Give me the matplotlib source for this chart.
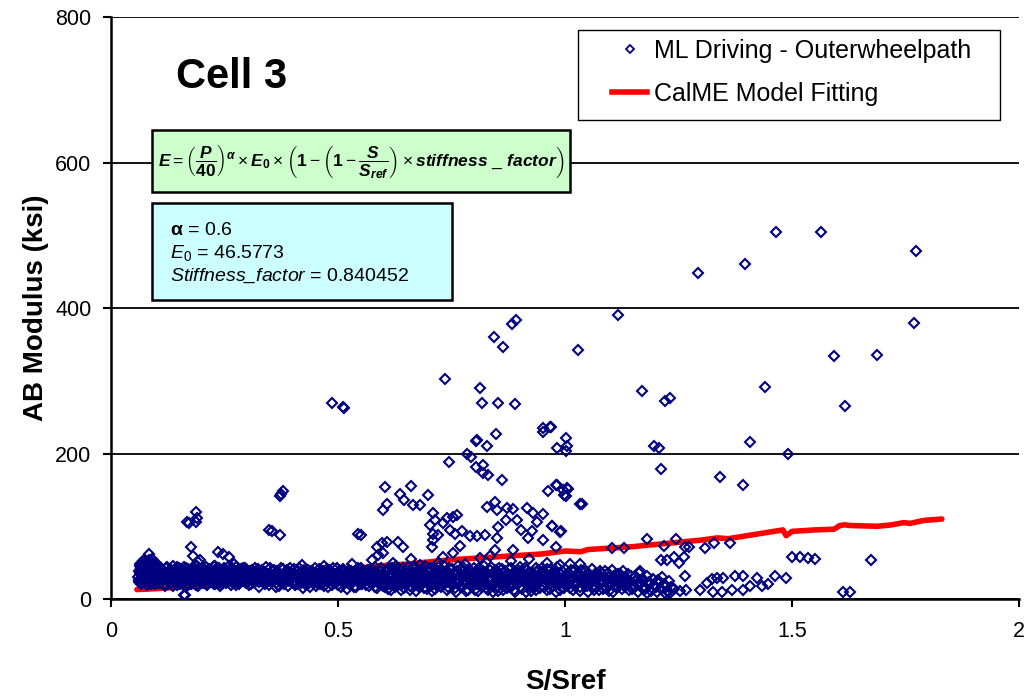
import matplotlib
matplotlib.use("Agg")
import matplotlib.pyplot as plt
from matplotlib.patches import Rectangle
from matplotlib.lines import Line2D

plt.rcParams['font.family'] = ['Liberation Sans', 'DejaVu Sans']
plt.rcParams['mathtext.fontset'] = 'custom'
plt.rcParams['mathtext.it'] = 'Liberation Sans:italic:bold'
plt.rcParams['mathtext.rm'] = 'Liberation Sans'
plt.rcParams['mathtext.bf'] = 'Liberation Sans:bold'
plt.rcParams['mathtext.sf'] = 'Liberation Sans:italic'

# --- measured data : dense band (S/Sref, modulus in ksi) ---
s_band = [0.060, 0.062, 0.063, 0.065, 0.066, 0.068, 0.069, 0.071, 0.072, 0.074,
          0.075, 0.077, 0.078, 0.080, 0.081, 0.083, 0.084, 0.086, 0.087, 0.089,
          0.090, 0.092, 0.093, 0.095, 0.096, 0.098, 0.099, 0.101, 0.103, 0.104,
          0.064, 0.070, 0.079, 0.085, 0.091, 0.097, 0.073, 0.088, 0.094, 0.100,
          0.106, 0.108, 0.110, 0.112, 0.115, 0.117, 0.119, 0.121, 0.124, 0.126,
          0.128, 0.130, 0.133, 0.135, 0.137, 0.140, 0.142, 0.144, 0.146, 0.149,
          0.151, 0.153, 0.156, 0.158, 0.160, 0.162, 0.165, 0.167, 0.169, 0.172,
          0.174, 0.176, 0.178, 0.181, 0.183, 0.185, 0.188, 0.190, 0.192, 0.195,
          0.197, 0.199, 0.202, 0.204, 0.206, 0.209, 0.211, 0.213, 0.216, 0.218,
          0.220, 0.223, 0.225, 0.227, 0.230, 0.232, 0.234, 0.237, 0.239, 0.241,
          0.244, 0.246, 0.248, 0.251, 0.253, 0.255, 0.258, 0.260, 0.262, 0.265,
          0.267, 0.269, 0.272, 0.274, 0.276, 0.279, 0.281, 0.283, 0.286, 0.288,
          0.290, 0.293, 0.295, 0.297, 0.300,
          0.303, 0.306, 0.309, 0.312, 0.316, 0.319, 0.322, 0.325, 0.329, 0.332,
          0.335, 0.338, 0.342, 0.345, 0.348, 0.351, 0.355, 0.358, 0.361, 0.364,
          0.368, 0.371, 0.374, 0.377, 0.381, 0.384, 0.387, 0.390, 0.394, 0.397,
          0.400, 0.403, 0.407, 0.410, 0.413, 0.416, 0.420, 0.423, 0.426, 0.429,
          0.433, 0.436, 0.439, 0.442, 0.446, 0.449, 0.452, 0.455, 0.459, 0.462,
          0.465, 0.468, 0.472, 0.475, 0.478, 0.481, 0.485, 0.488, 0.491, 0.494,
          0.498, 0.501, 0.504, 0.507, 0.511, 0.514, 0.517, 0.520, 0.524, 0.527,
          0.530, 0.533, 0.537, 0.540, 0.543, 0.546, 0.550, 0.553, 0.556, 0.559,
          0.563, 0.566, 0.569, 0.572, 0.576, 0.579, 0.582, 0.585, 0.589, 0.592,
          0.595, 0.598,
          0.601, 0.604, 0.607, 0.610, 0.614, 0.617, 0.620, 0.623, 0.627, 0.630,
          0.633, 0.636, 0.640, 0.643, 0.646, 0.649, 0.653, 0.656, 0.659, 0.662,
          0.666, 0.669, 0.672, 0.675, 0.679, 0.682, 0.685, 0.688, 0.692, 0.695,
          0.698, 0.701, 0.705, 0.708, 0.711, 0.714, 0.718, 0.721, 0.724, 0.727,
          0.731, 0.734, 0.737, 0.740, 0.744, 0.747, 0.750, 0.753, 0.757, 0.760,
          0.763, 0.766, 0.770, 0.773, 0.776, 0.779, 0.783, 0.786, 0.789, 0.792,
          0.796, 0.799, 0.802, 0.805, 0.809, 0.812, 0.815, 0.818, 0.822, 0.825,
          0.828, 0.831, 0.835, 0.838, 0.841, 0.844, 0.848, 0.851, 0.854, 0.857,
          0.861, 0.864, 0.867, 0.870, 0.874, 0.877, 0.880, 0.883, 0.887, 0.890,
          0.893, 0.896, 0.900, 0.903, 0.906, 0.909, 0.913, 0.916, 0.919, 0.922,
          0.926, 0.929, 0.932, 0.935, 0.939, 0.942, 0.945, 0.948, 0.952, 0.955,
          0.958, 0.961, 0.965, 0.968, 0.971, 0.974, 0.978, 0.981, 0.984, 0.987,
          0.991, 0.994, 0.997,
          1.002, 1.006, 1.010, 1.014, 1.018, 1.022, 1.026, 1.030, 1.034, 1.038,
          1.042, 1.046, 1.050, 1.054, 1.058, 1.062, 1.066, 1.070, 1.074, 1.078,
          1.082, 1.086, 1.090, 1.094, 1.098, 1.102, 1.106, 1.110, 1.114, 1.118,
          1.122, 1.126, 1.130, 1.135, 1.140, 1.145, 1.150, 1.155, 1.160, 1.166,
          1.172, 1.178, 1.184, 1.190, 1.197, 1.204, 1.211, 1.218, 1.226, 1.234]
e_band = [30, 24, 36, 28, 41, 33, 22, 45, 27, 38,
          50, 31, 25, 43, 35, 29, 53, 39, 21, 47,
          33, 26, 44, 37, 30, 49, 23, 40, 34, 28,
          48, 52, 19, 46, 55, 20, 32, 27, 41, 45,
          36, 22, 42, 30, 26, 39, 18, 33, 44, 28,
          35, 21, 40, 29, 45, 24, 37, 31, 19, 42,
          27, 38, 33, 22, 44, 30, 17, 36, 41, 25,
          34, 20, 43, 29, 38, 24, 32, 45, 18, 36,
          27, 41, 22, 35, 30, 44, 19, 38, 26, 33,
          40, 24, 31, 45, 20, 36, 28, 42, 34, 18,
          37, 26, 43, 30, 22, 39, 33, 45, 27, 19,
          35, 41, 24, 31, 44, 28, 21, 38, 33, 26,
          42, 30, 36, 22, 40,
          27, 38, 21, 33, 42, 25, 30, 17, 36, 40,
          23, 31, 44, 28, 19, 35, 39, 26, 33, 16,
          37, 29, 42, 22, 34, 27, 40, 18, 31, 36,
          24, 41, 30, 20, 35, 27, 38, 15, 33, 29,
          40, 22, 36, 26, 31, 43, 18, 34, 28, 39,
          21, 33, 27, 41, 16, 30, 37, 24, 35, 29,
          43, 19, 32, 26, 38, 23, 35, 14, 40, 29,
          22, 36, 31, 17, 42, 27, 34, 20, 38, 25,
          33, 40, 18, 29, 36, 23, 44, 15, 31, 38,
          26, 21,
          34, 17, 41, 26, 30, 13, 38, 22, 45, 29,
          19, 35, 27, 42, 15, 32, 24, 39, 12, 36,
          28, 44, 21, 33, 17, 40, 26, 31, 46, 14,
          37, 23, 29, 11, 42, 34, 19, 27, 38, 16,
          31, 45, 24, 13, 36, 28, 41, 20, 33, 10,
          39, 25, 30, 17, 44, 35, 22, 12, 37, 28,
          18, 42, 26, 33, 11, 39, 23, 30, 45, 15,
          34, 21, 40, 27, 9, 36, 31, 17, 43, 24,
          29, 13, 38, 22, 35, 41, 16, 32, 26, 10,
          37, 20, 44, 28, 14, 33, 23, 40, 18, 30,
          11, 36, 25, 42, 19, 31, 15, 27, 38, 22,
          34, 12, 29, 41, 17, 24, 36, 9, 31, 20,
          27, 39, 15,
          33, 19, 26, 40, 12, 30, 23, 36, 16, 28,
          21, 38, 10, 31, 25, 17, 34, 28, 13, 39,
          24, 30, 15, 36, 20, 27, 9, 33, 18, 26,
          35, 14, 22, 29, 12, 31, 18, 25, 10, 20,
          27, 15, 23, 11, 19, 26, 14, 21, 9, 17]

# second pass over the band (points lying between the ones above)
s_band2 = [0.061, 0.063, 0.064, 0.066, 0.067, 0.069, 0.070, 0.072, 0.073, 0.075,
           0.076, 0.078, 0.079, 0.081, 0.082, 0.084, 0.085, 0.087, 0.088, 0.090,
           0.091, 0.093, 0.094, 0.096, 0.097, 0.099, 0.100, 0.102, 0.104, 0.105,
           0.107, 0.109, 0.111, 0.114, 0.116, 0.118, 0.120, 0.123, 0.125, 0.127,
           0.129, 0.132, 0.134, 0.136, 0.139, 0.141, 0.143, 0.145, 0.148, 0.150,
           0.152, 0.155, 0.157, 0.159, 0.161, 0.164, 0.166, 0.168, 0.171, 0.173,
           0.175, 0.177, 0.180, 0.182, 0.184, 0.187, 0.189, 0.191, 0.194, 0.196,
           0.198, 0.201, 0.203, 0.205, 0.208, 0.210, 0.212, 0.215, 0.217, 0.219,
           0.222, 0.224, 0.226, 0.229, 0.231, 0.233, 0.236, 0.238, 0.240, 0.243,
           0.245, 0.247, 0.250, 0.252, 0.254, 0.257, 0.259, 0.261, 0.264, 0.266,
           0.268, 0.271, 0.273, 0.275, 0.278, 0.280, 0.282, 0.285, 0.287, 0.289,
           0.292, 0.294, 0.296, 0.299,
           0.301, 0.304, 0.308, 0.311, 0.314, 0.317, 0.321, 0.324, 0.327, 0.330,
           0.334, 0.337, 0.340, 0.343, 0.347, 0.350, 0.353, 0.356, 0.360, 0.363,
           0.366, 0.369, 0.373, 0.376, 0.379, 0.382, 0.386, 0.389, 0.392, 0.395,
           0.399, 0.402, 0.405, 0.408, 0.412, 0.415, 0.418, 0.421, 0.425, 0.428,
           0.431, 0.434, 0.438, 0.441, 0.444, 0.447, 0.451, 0.454, 0.457, 0.460,
           0.464, 0.467, 0.470, 0.473, 0.477, 0.480, 0.483, 0.486, 0.490, 0.493,
           0.496, 0.499, 0.503, 0.506, 0.509, 0.512, 0.516, 0.519, 0.522, 0.525,
           0.529, 0.532, 0.535, 0.538, 0.542, 0.545, 0.548, 0.551, 0.555, 0.558,
           0.561, 0.564, 0.568, 0.571, 0.574, 0.577, 0.581, 0.584, 0.587, 0.590,
           0.594, 0.597, 0.599,
           0.602, 0.606, 0.609, 0.612, 0.615, 0.619, 0.622, 0.625, 0.628, 0.632,
           0.635, 0.638, 0.641, 0.645, 0.648, 0.651, 0.654, 0.658, 0.661, 0.664,
           0.667, 0.671, 0.674, 0.677, 0.680, 0.684, 0.687, 0.690, 0.693, 0.697,
           0.700, 0.703, 0.706, 0.710, 0.713, 0.716, 0.719, 0.723, 0.726, 0.729,
           0.732, 0.736, 0.739, 0.742, 0.745, 0.749, 0.752, 0.755, 0.758, 0.762,
           0.765, 0.768, 0.771, 0.775, 0.778, 0.781, 0.784, 0.788, 0.791, 0.794,
           0.797, 0.801, 0.804, 0.807, 0.810, 0.814, 0.817, 0.820, 0.823, 0.827,
           0.830, 0.833, 0.836, 0.840, 0.843, 0.846, 0.849, 0.853, 0.856, 0.859,
           0.862, 0.866, 0.869, 0.872, 0.875, 0.879, 0.882, 0.885, 0.888, 0.892,
           0.895, 0.898, 0.901, 0.905, 0.908, 0.911, 0.914, 0.918, 0.921, 0.924,
           0.927, 0.931, 0.934, 0.937, 0.940, 0.944, 0.947, 0.950, 0.953, 0.957,
           0.960, 0.963, 0.966, 0.970, 0.973, 0.976, 0.979, 0.983, 0.986, 0.989,
           0.992, 0.996, 0.999,
           1.004, 1.008, 1.012, 1.016, 1.020, 1.024, 1.028, 1.032, 1.036, 1.040,
           1.044, 1.048, 1.052, 1.056, 1.060, 1.064, 1.068, 1.072, 1.076, 1.080,
           1.084, 1.088, 1.092, 1.096, 1.100, 1.104, 1.108, 1.112, 1.116, 1.120,
           1.124, 1.128, 1.133, 1.138, 1.143, 1.148, 1.153, 1.158, 1.163, 1.169,
           1.175, 1.181, 1.187, 1.194, 1.200, 1.207, 1.214, 1.222, 1.230, 1.240]
e_band2 = [38, 45, 26, 34, 21, 48, 40, 30, 54, 23,
           36, 42, 29, 51, 24, 33, 44, 27, 38, 22,
           41, 31, 49, 25, 36, 43, 28, 37, 22, 40,
           28, 40, 24, 37, 33, 21, 43, 26, 31, 39,
           23, 36, 30, 18, 40, 33, 26, 44, 28, 35,
           20, 41, 29, 37, 24, 34, 43, 21, 31, 39,
           26, 37, 22, 41, 31, 19, 38, 28, 42, 23,
           34, 30, 43, 25, 37, 21, 32, 41, 23, 39,
           29, 35, 21, 38, 26, 43, 32, 22, 39, 30,
           20, 34, 41, 26, 36, 23, 30, 38, 33, 43,
           22, 37, 28, 19, 35, 40, 31, 24, 41, 37,
           25, 33, 43, 29,
           34, 19, 29, 40, 23, 36, 28, 41, 24, 32,
           38, 26, 20, 35, 31, 42, 24, 29, 40, 22,
           31, 18, 35, 27, 41, 21, 33, 37, 25, 43,
           30, 35, 19, 38, 26, 42, 22, 31, 40, 20,
           27, 35, 17, 39, 24, 29, 36, 22, 41, 32,
           26, 38, 18, 34, 23, 40, 28, 19, 42, 22,
           31, 25, 38, 17, 28, 41, 30, 24, 36, 20,
           39, 27, 16, 34, 25, 37, 21, 42, 29, 33,
           19, 26, 38, 24, 41, 30, 16, 35, 27, 22,
           43, 32, 18,
           24, 39, 14, 35, 21, 43, 31, 16, 37, 25,
           41, 12, 30, 22, 38, 27, 44, 18, 31, 23,
           36, 11, 39, 26, 30, 20, 42, 15, 35, 28,
           19, 42, 33, 25, 14, 39, 30, 44, 23, 35,
           20, 27, 38, 17, 43, 22, 31, 36, 15, 27,
           45, 18, 34, 40, 24, 11, 30, 41, 21, 33,
           28, 13, 37, 20, 43, 29, 16, 38, 24, 35,
           12, 28, 44, 19, 31, 24, 40, 11, 34, 20,
           41, 25, 33, 15, 28, 21, 43, 36, 12, 24,
           31, 39, 17, 34, 26, 42, 10, 29, 37, 21,
           32, 18, 29, 13, 40, 25, 35, 43, 16, 30,
           41, 23, 14, 33, 27, 38, 19, 44, 25, 12,
           35, 22, 30,
           24, 36, 15, 29, 38, 20, 32, 11, 40, 25,
           30, 18, 35, 22, 41, 12, 27, 33, 20, 36,
           14, 38, 26, 11, 32, 40, 24, 16, 34, 21,
           28, 38, 17, 34, 24, 14, 32, 21, 36, 26,
           13, 31, 20, 28, 16, 23, 30, 18, 25, 14]

# third pass, core of the band
s_band3 = [0.0605, 0.0655, 0.0705, 0.0755, 0.0805, 0.0855, 0.0905, 0.0955, 0.1005, 0.113,
           0.122, 0.131, 0.138, 0.147, 0.154, 0.163, 0.170, 0.179, 0.186, 0.193,
           0.200, 0.207, 0.214, 0.221, 0.228, 0.235, 0.242, 0.249, 0.256, 0.263,
           0.270, 0.277, 0.284, 0.291, 0.298, 0.305, 0.313, 0.320, 0.327, 0.336,
           0.344, 0.352, 0.359, 0.366, 0.375, 0.383, 0.391, 0.398, 0.406, 0.414,
           0.422, 0.430, 0.437, 0.445, 0.453, 0.461, 0.469, 0.476, 0.484, 0.492,
           0.500, 0.508, 0.515, 0.523, 0.531, 0.539, 0.547, 0.554, 0.562, 0.570,
           0.578, 0.586, 0.593, 0.600, 0.608, 0.616, 0.624, 0.631, 0.639, 0.647,
           0.655, 0.663, 0.670, 0.678, 0.686, 0.694, 0.702, 0.709, 0.717, 0.725,
           0.733, 0.741, 0.748, 0.756, 0.764, 0.772, 0.780, 0.787, 0.795, 0.803,
           0.811, 0.819, 0.826, 0.834, 0.842, 0.850, 0.858, 0.865, 0.873, 0.881,
           0.889, 0.897, 0.904, 0.912, 0.920, 0.928, 0.936, 0.943, 0.951, 0.959,
           0.967, 0.975, 0.982, 0.990, 0.998, 1.008, 1.019, 1.031, 1.044, 1.057,
           1.069, 1.081, 1.093, 1.107, 1.121, 1.137, 1.152, 1.168]
e_band3 = [26, 42, 35, 47, 32, 40, 29, 46, 31, 25,
           33, 28, 38, 30, 26, 35, 29, 40, 27, 31,
           24, 36, 29, 33, 39, 27, 35, 23, 31, 37,
           29, 25, 33, 28, 35, 31, 24, 37, 28, 22,
           34, 27, 31, 38, 25, 30, 35, 27, 23, 36,
           30, 25, 32, 37, 27, 21, 34, 29, 39, 26,
           31, 35, 24, 29, 33, 38, 22, 30, 27, 35,
           29, 24, 33, 20, 28, 35, 25, 32, 19, 29,
           37, 24, 30, 22, 33, 27, 38, 21, 31, 26,
           34, 23, 29, 36, 20, 31, 26, 33, 24, 38,
           27, 32, 21, 29, 36, 25, 30, 19, 34, 28,
           23, 31, 38, 26, 21, 33, 28, 24, 35, 27,
           20, 30, 25, 34, 23, 28, 19, 31, 24, 29,
           17, 26, 21, 30, 19, 24, 15, 22]

# --- measured data : scattered points away from the band ---
s_spread = [0.084, 0.172, 0.167, 0.188, 0.190, 0.187, 0.176, 0.181, 0.192, 0.196,
            0.161, 0.164, 0.236, 0.247, 0.260, 0.271, 0.229, 0.347, 0.355, 0.372,
            0.375, 0.379, 0.373, 0.545, 0.551, 0.486, 0.511, 0.514, 0.420, 0.470,
            0.530, 0.585, 0.596, 0.607, 0.574, 0.633, 0.644, 0.600, 0.589, 0.620,
            0.660, 0.680, 0.720, 0.780, 0.880, 0.920, 0.960, 0.990, 0.603, 0.607,
            0.598, 0.660, 0.637, 0.645, 0.666, 0.681, 0.699, 0.744, 0.784, 0.793,
            0.804, 0.829, 0.804, 0.820, 0.820, 0.831, 0.861, 0.963, 0.980, 0.995,
            1.004, 0.997, 1.034, 0.710, 0.714, 0.703, 0.710, 0.721, 0.732, 0.739,
            0.754, 0.761, 0.747, 0.758, 0.772, 0.710, 0.706, 0.732, 0.754, 0.769,
            0.791, 0.805, 0.824, 0.828, 0.846, 0.850, 0.872, 0.886, 0.870, 0.894,
            0.902, 0.916, 0.930, 0.952, 0.919, 0.927, 0.938, 0.952, 0.971, 0.991,
            0.886, 0.850, 0.853, 0.846, 0.813, 0.835, 0.735, 0.843, 0.863, 0.883,
            0.892, 1.028, 0.813, 0.818, 0.853, 0.889, 0.848, 0.805, 0.951, 0.952,
            0.967, 1.003, 0.982, 1.004, 1.003, 1.117, 1.170, 1.221, 1.232, 1.440,
            1.593, 1.687, 1.768, 1.616, 1.407, 1.491, 1.342, 1.392, 1.197, 1.208,
            1.211, 0.968, 0.983, 1.006, 1.003, 1.038, 0.972, 0.990, 0.979, 1.181,
            1.245, 1.104, 1.129, 1.217, 1.265, 1.272, 1.309, 1.329, 1.364, 1.012,
            1.034, 1.212, 1.225, 1.241, 1.250, 1.263, 1.166, 1.265, 1.500, 1.518,
            1.536, 1.551, 1.674, 1.612, 1.628, 1.487, 1.463, 1.423, 1.448, 1.434,
            1.313, 1.324, 1.335, 1.349, 1.375, 1.393, 1.408, 1.392, 1.368, 1.346,
            1.327, 1.298, 1.254, 1.267, 1.232, 1.221, 1.203, 1.181, 1.292, 1.397,
            1.464, 1.564, 1.774]
e_spread = [62, 105, 106, 120, 112, 106, 71, 59, 51, 54,
            5, 6, 64, 62, 58, 48, 45, 95, 94, 88,
            145, 148, 142, 90, 88, 269, 264, 262, 47, 46,
            48, 72, 77, 79, 54, 79, 72, 63, 61, 50,
            55, 47, 50, 48, 52, 55, 50, 47, 154, 131,
            122, 156, 145, 136, 129, 129, 143, 189, 200, 195,
            217, 210, 181, 184, 173, 171, 164, 148, 157, 150,
            152, 143, 131, 118, 109, 102, 90, 88, 104, 111,
            113, 116, 95, 90, 93, 81, 72, 58, 63, 73,
            86, 86, 88, 127, 134, 123, 125, 124, 109, 109,
            95, 125, 118, 117, 84, 93, 106, 81, 100, 93,
            67, 84, 99, 67, 56, 59, 303, 360, 346, 378,
            383, 342, 290, 270, 269, 268, 227, 218, 235, 229,
            236, 222, 208, 210, 204, 391, 286, 272, 277, 292,
            334, 335, 380, 266, 216, 199, 168, 157, 211, 208,
            179, 237, 157, 151, 141, 131, 100, 92, 72, 82,
            82, 70, 70, 73, 71, 72, 70, 77, 77, 48,
            48, 53, 53, 58, 50, 58, 39, 31, 58, 58,
            57, 55, 53, 9, 9, 29, 31, 29, 21, 18,
            22, 28, 29, 29, 31, 31, 18, 13, 13, 10,
            10, 12, 11, 12, 8, 8, 10, 8, 448, 460,
            504, 505, 479]

# --- CalME model fitting curve ---
fit_s = [0.057, 0.09, 0.12, 0.157, 0.165, 0.2, 0.25, 0.3, 0.35, 0.4,
         0.45, 0.5, 0.55, 0.6, 0.65, 0.7, 0.75, 0.8, 0.85, 0.9,
         0.95, 1.0, 1.035, 1.05, 1.1, 1.15, 1.18, 1.2, 1.25, 1.3,
         1.335, 1.36, 1.4, 1.43, 1.47, 1.48, 1.487, 1.5, 1.55, 1.593,
         1.605, 1.615, 1.63, 1.688, 1.72, 1.746, 1.76, 1.79, 1.83]
fit_e = [13, 14, 15, 17, 16, 19, 22, 26, 29, 32,
         35, 39, 43, 46, 48, 51, 54, 56, 58, 60,
         62, 66, 65, 68, 70, 72, 74, 75, 78, 81,
         84, 83, 87, 90, 94, 95, 87, 93, 95, 96,
         101, 102, 101, 100, 102, 105, 104, 108, 110]

x_ticks = [0, 0.5, 1, 1.5, 2]
x_tick_labels = ['0', '0.5', '1', '1.5', '2']
y_ticks = [0, 200, 400, 600, 800]

fig = plt.figure(figsize=(10.31, 6.98), dpi=100)
ax = fig.add_axes([0.1077, 0.1418, 0.8807, 0.8338])

ax.plot(fit_s, fit_e, color='#ff0000', lw=4, zorder=3, solid_capstyle='round')
s_all = s_band + s_band2 + s_band3 + s_spread
e_all = e_band + e_band2 + e_band3 + e_spread
ax.plot(s_all, e_all, 'D', ls='none', mfc='none', mec='#000080', ms=4.6, mew=1.5, zorder=4)

ax.set_xlim(0, 2)
ax.set_ylim(0, 800)
ax.set_xticks(x_ticks)
ax.set_xticklabels(x_tick_labels)
ax.set_yticks(y_ticks)
ax.tick_params(direction='out', length=6, width=1.5, labelsize=15.5, colors='black')
ax.tick_params(axis='y', pad=8)
ax.tick_params(axis='x', pad=10)
ax.yaxis.grid(True, color='black', lw=1.3)
ax.set_axisbelow(True)
for side in ['top', 'right']:
    ax.spines[side].set_visible(False)
for side in ['left', 'bottom']:
    ax.spines[side].set_linewidth(1.8)

ax.set_xlabel('S/Sref', fontsize=20, fontweight='bold')
ax.set_ylabel('AB Modulus (ksi)', fontsize=20, fontweight='bold')
ax.xaxis.set_label_coords(0.5, -0.12)
ax.yaxis.set_label_coords(-0.068, 0.5)

ax.text(0.133, 0.897, 'Cell 3', transform=ax.transAxes, ha='center', va='center',
        fontsize=30, fontweight='bold')

# equation box
ax.add_patch(Rectangle((0.045, 0.699), 0.46, 0.107, transform=ax.transAxes,
                       facecolor='#ccffcc', edgecolor='black', lw=1.8, zorder=5))
ax.text(0.275, 0.752,
        r'$E = \left(\dfrac{P}{\mathbf{40}}\right)^{\alpha} \times E_{\mathbf{0}} \times'
        r'\left(\mathbf{1} - \left(\mathbf{1} - \dfrac{S}{S_{ref}}\right) \times stiffness\ \_\ factor\right)$',
        transform=ax.transAxes, ha='center', va='center', fontsize=12.5, zorder=6)

# parameter box
ax.add_patch(Rectangle((0.045, 0.514), 0.331, 0.166, transform=ax.transAxes,
                       facecolor='#ccffff', edgecolor='black', lw=1.8, zorder=5))
par_lines = [r'$\mathbf{\alpha}$ = 0.6',
             r'$\mathsf{E}_{\mathrm{0}}$ = 46.5773',
             r'$\mathsf{Stiffness\_factor}$ = 0.840452']
for i, t in enumerate(par_lines):
    ax.text(0.065, 0.634 - i * 0.039, t, transform=ax.transAxes, ha='left',
            va='center', fontsize=14, zorder=6)

# legend box drawn by hand, legend itself without frame
ax.add_patch(Rectangle((0.514, 0.823), 0.465, 0.155, transform=ax.transAxes,
                       facecolor='white', edgecolor='black', lw=1.0, zorder=6))
handles = [Line2D([], [], marker='D', ls='none', mfc='none', mec='#000080', ms=4, mew=1.3),
           Line2D([], [], color='#ff0000', lw=4)]
leg = ax.legend(handles, ['ML Driving - Outerwheelpath', 'CalME Model Fitting'],
                loc='upper left', bbox_to_anchor=(0.552, 0.962), borderaxespad=0,
                fontsize=18, frameon=False, handlelength=1.4, handletextpad=0.25,
                borderpad=0, labelspacing=0.75)
leg.set_zorder(7)

fig.savefig('out.png', dpi=100)
